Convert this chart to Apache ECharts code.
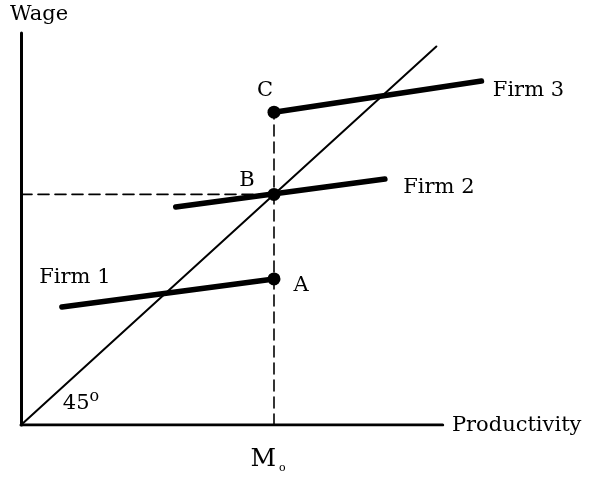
<!DOCTYPE html>
<html>
<head>
<meta charset="utf-8">
<style>
  html, body { margin: 0; padding: 0; background: #fff; }
  #chart { width: 595px; height: 477px; }
</style>
<script src="https://cdn.jsdelivr.net/npm/echarts@6/dist/echarts.min.js"></script>
</head>
<body>
<div id="chart"></div>
<script>
// data (productivity on x, wage on y)
const xAxisEnd = 10
const diagonal = [[0, 0], [9.85, 9.85]]
const firm1 = [[0.97, 3.07], [6, 3.8]]
const firm2 = [[3.67, 5.67], [8.63, 6.4]]
const firm3 = [[6, 8.14], [10.92, 8.95]]
const pointNames = ['A', 'B', 'C']
const pointValues = [[6, 3.8], [6, 6], [6, 8.14]]
const moValue = 6

const serif = 'DejaVu Serif'
const black = '#000'

const chart = echarts.init(document.getElementById('chart'))

// label anchors hang off the line ends / points above
const labelItems = [
  { value: firm3[1], label: { formatter: 'Firm 3', offset: [47, 10] } },
  { value: firm2[1], label: { formatter: 'Firm 2', offset: [54, 9] } },
  { value: firm1[0], label: { formatter: 'Firm 1', offset: [13, -29] } },
  { value: diagonal[0], label: { formatter: '45{d|o}', offset: [60, -21] } },
  { value: [xAxisEnd, 0], label: { formatter: 'Productivity', offset: [74, 1] } }
]
const pointOffsets = { A: [27, 7], B: [-27, -14], C: [-9, -22] }

function lineSeries(data, width, type) {
  return {
    type: 'line',
    data: data,
    symbol: 'none',
    silent: true,
    lineStyle: { color: black, width: width, type: type || 'solid', cap: 'round' }
  }
}

chart.setOption({
  backgroundColor: '#FFFFFF',
  animation: false,
  grid: { left: 21, right: 68, top: 33, bottom: 52 },
  xAxis: {
    type: 'value',
    min: 0,
    max: 12,
    interval: 1,
    splitLine: { show: false },
    axisTick: { show: false },
    axisLine: { show: false },
    axisLabel: {
      margin: 20,
      padding: [0, 12, 0, 0],
      formatter: function (v) { return v === moValue ? '{m|M}{s|o}' : '' },
      rich: {
        m: { fontFamily: serif, fontSize: 25, color: black },
        s: { fontFamily: serif, fontSize: 11, color: black, padding: [18, 0, 0, 3] }
      }
    }
  },
  yAxis: {
    type: 'value',
    min: 0,
    max: 10.2,
    splitLine: { show: false },
    axisTick: { show: false },
    axisLabel: { show: false },
    axisLine: { lineStyle: { color: black, width: 3 } },
    name: 'Wage',
    nameLocation: 'end',
    nameGap: 8,
    nameTextStyle: { fontFamily: serif, fontSize: 21, color: black, padding: [0, 0, 0, 36] }
  },
  series: [
    lineSeries([[0, 0], [xAxisEnd, 0]], 3),
    lineSeries(diagonal, 2),
    lineSeries([[moValue, 0], pointValues[2]], 1.6, [11, 6]),
    lineSeries([[0, pointValues[1][1]], pointValues[1]], 1.6, [11, 6]),
    lineSeries(firm1, 5.5),
    lineSeries(firm2, 5.5),
    lineSeries(firm3, 5.5),
    {
      type: 'scatter',
      data: pointValues.map(function (v, i) {
        return { value: v, name: pointNames[i], label: { offset: pointOffsets[pointNames[i]] } }
      }),
      symbolSize: 13,
      itemStyle: { color: black, opacity: 1 },
      z: 5,
      label: {
        show: true,
        position: 'inside',
        formatter: '{b}',
        fontFamily: serif,
        fontSize: 21,
        color: black,
        opacity: 1
      }
    },
    {
      type: 'scatter',
      data: labelItems,
      symbolSize: 1,
      silent: true,
      itemStyle: { color: 'transparent', opacity: 1 },
      label: {
        show: true,
        position: 'inside',
        fontFamily: serif,
        fontSize: 21,
        color: black,
        opacity: 1,
        rich: {
          d: { fontFamily: serif, fontSize: 16, color: black, padding: [0, 0, 14, 0] }
        }
      }
    }
  ]
})
</script>
</body>
</html>
